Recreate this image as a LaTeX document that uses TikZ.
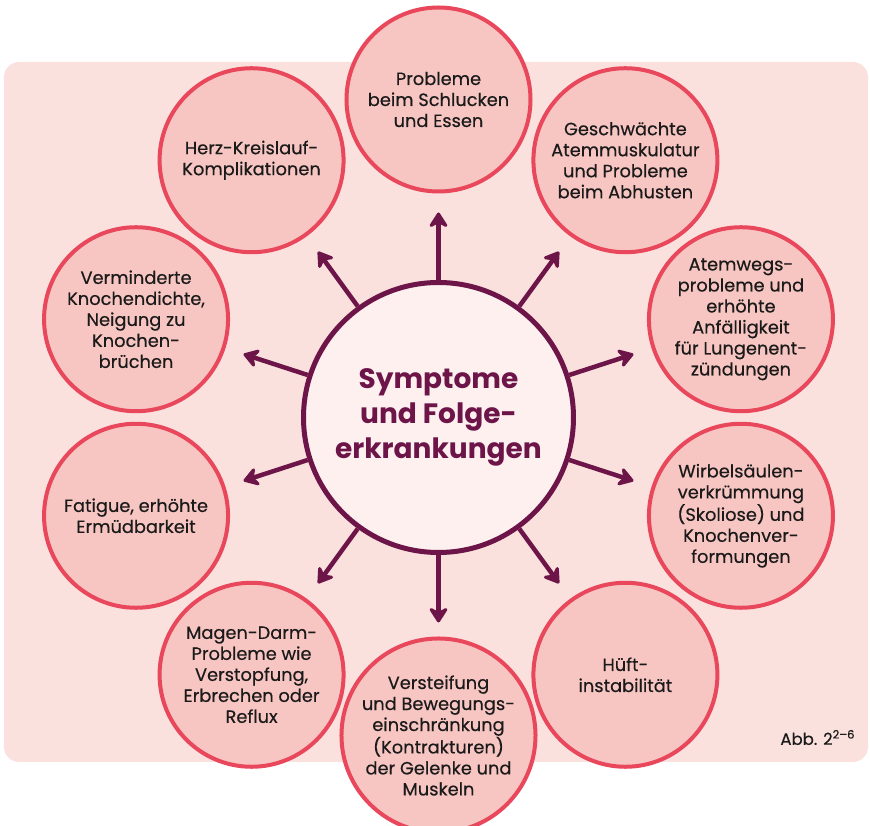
\documentclass[tikz,border=0pt]{standalone}
\usepackage{fontspec}
\setmainfont{Poppins}[UprightFeatures={FakeBold=0.4}]
\usetikzlibrary{arrows.meta}
\definecolor{panel}{HTML}{FBE1DD}
\definecolor{bubblefill}{HTML}{F8C6C2}
\definecolor{bubbleline}{HTML}{E8475C}
\definecolor{corefill}{HTML}{FDF0EF}
\definecolor{plum}{HTML}{6D1548}
\definecolor{ink}{HTML}{1A1A1A}
\tikzset{
  bubble/.style={circle, draw=bubbleline, fill=bubblefill, line width=4pt,
    minimum size=184pt, inner sep=0pt, align=center, text=ink,
    font=\fontsize{17.8}{21}\selectfont},
  core/.style={circle, draw=plum, fill=corefill, line width=5pt,
    minimum size=270pt, inner sep=0pt, align=center, text=plum,
    font=\bfseries\fontsize{28}{35}\selectfont},
  ray/.style={draw=plum, line width=4.5pt,
    -{Stealth[length=18pt,width=23pt,inset=6pt,round]}}
}
\begin{document}
\begin{tikzpicture}[x=1pt,y=1pt]
\useasboundingbox (-438.5,417.5) rectangle (431.5,-408.5);
% pale panel behind the diagram
\fill[panel, rounded corners=15pt] (-434.5,355.5) rectangle (429.5,-344.5);

% surrounding bubbles
\node[bubble] (b1)  at (90:318)   {Probleme\\beim Schlucken\\und Essen};
\node[bubble] (b2)  at (54:318)   {Geschwächte\\Atemmuskulatur\\und Probleme\\beim Abhusten};
\node[bubble] (b3)  at (18:318)   {Atemwegs-\\probleme und\\erhöhte\\Anfälligkeit\\für Lungenent-\\zündungen};
\node[bubble] (b4)  at (-18:318)  {Wirbelsäulen-\\verkrümmung\\(Skoliose) und\\Knochenver-\\formungen};
\node[bubble] (b5)  at (-54:318)  {Hüft-\\instabilität};
\node[bubble] (b6)  at (-90:318)  {Versteifung\\und Bewegungs-\\einschränkung\\(Kontrakturen)\\der Gelenke und\\Muskeln};
\node[bubble] (b7)  at (-126:318) {Magen-Darm-\\Probleme wie\\Verstopfung,\\Erbrechen oder\\Reflux};
\node[bubble] (b8)  at (-162:318) {Fatigue, erhöhte\\Ermüdbarkeit};
\node[bubble] (b9)  at (162:318)  {Verminderte\\Knochendichte,\\Neigung zu\\Knochen-\\brüchen};
\node[bubble] (b10) at (126:318)  {Herz-Kreislauf-\\Komplikationen};

% central topic
\node[core] (c) at (0,0) {Symptome\\und Folge-\\erkrankungen};

% arrow tips pointing outwards
\foreach \a [count=\i] in {90,54,18,-18,-54,-90,-126,-162,162,126} {
  \coordinate (t\i) at (\a:205);
  \draw[ray] (c.\a) -- (t\i);
}

% figure reference
\node[anchor=east, text=ink, font=\fontsize{16.5}{18}\selectfont] (abb) at (420,-320)
  {Abb. 2\textsuperscript{2–6}};
\end{tikzpicture}
\end{document}
